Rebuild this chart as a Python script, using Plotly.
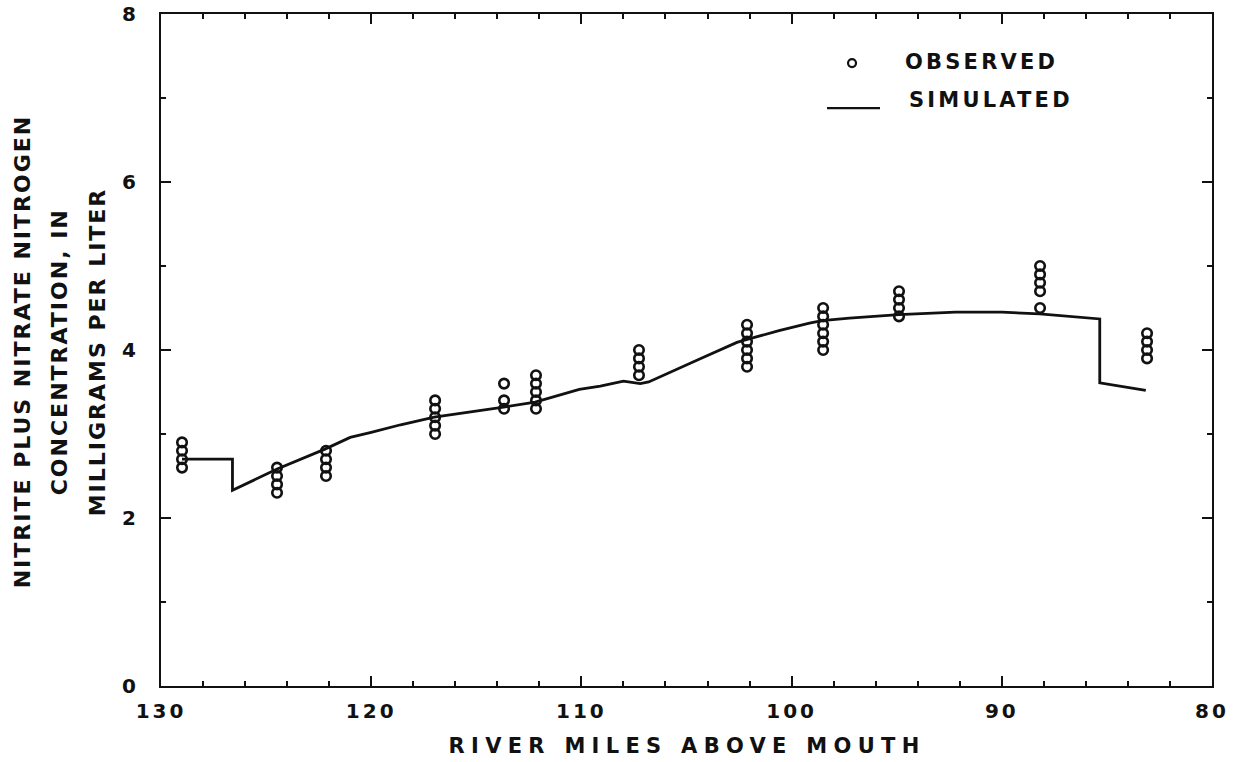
import json
import plotly.graph_objects as go

# ---------------- data ----------------
# Observed sampling stations (river miles) and the concentrations observed at each
obs_miles = [129.0, 124.48, 122.15, 116.96, 113.68, 112.16, 107.26, 102.12, 98.5, 94.89, 88.18, 83.09]
obs_values = [
    [2.6, 2.7, 2.8, 2.9],
    [2.3, 2.4, 2.5, 2.6],
    [2.5, 2.6, 2.7, 2.8],
    [3.0, 3.1, 3.2, 3.3, 3.4],
    [3.3, 3.4, 3.6],
    [3.3, 3.4, 3.5, 3.6, 3.7],
    [3.7, 3.8, 3.9, 4.0],
    [3.8, 3.9, 4.0, 4.1, 4.2, 4.3],
    [4.0, 4.1, 4.2, 4.3, 4.4, 4.5],
    [4.4, 4.5, 4.6, 4.7],
    [4.5, 4.7, 4.8, 4.9, 5.0],
    [3.9, 4.0, 4.1, 4.2],
]

# Simulated profile
sim_miles = [129.0, 126.6, 126.6, 124.5, 122.2, 121.0, 120.0, 118.6, 117.0, 115.0, 113.7,
             112.2, 110.1, 109.1, 108.0, 107.2, 106.8, 104.4, 102.6, 102.2, 100.6, 99.15,
             98.55, 97.25, 94.9, 92.2, 90.0, 88.2, 85.34, 85.34, 83.15]
sim_values = [2.70, 2.70, 2.33, 2.58, 2.82, 2.96, 3.02, 3.11, 3.20, 3.27, 3.32,
              3.38, 3.53, 3.57, 3.63, 3.60, 3.62, 3.89, 4.09, 4.12, 4.23, 4.32,
              4.35, 4.38, 4.42, 4.45, 4.45, 4.43, 4.37, 3.61, 3.52]

x_range = [130, 80]
y_range = [0, 8]
x_title = "RIVER MILES ABOVE MOUTH"
y_title_lines = ["NITRITE PLUS NITRATE NITROGEN", "CONCENTRATION, IN", "MILLIGRAMS PER LITER"]
legend_labels = ["OBSERVED", "SIMULATED"]

# ---------------- figure ----------------
FONT = "DejaVu Sans"
INK = "#111111"
ox = [m for m, vals in zip(obs_miles, obs_values) for _ in vals]
oy = [v for vals in obs_values for v in vals]

fig = go.Figure()
fig.add_trace(go.Scatter(
    x=sim_miles, y=sim_values, mode="lines",
    line=dict(color=INK, width=2.8),
    name=legend_labels[1], showlegend=False, hoverinfo="skip",
))
fig.add_trace(go.Scatter(
    x=ox, y=oy, mode="markers",
    marker=dict(symbol="circle-open", size=9.5, color=INK, line=dict(width=2.6)),
    name=legend_labels[0], showlegend=False, hoverinfo="skip",
))

axis_common = dict(
    showline=True, linecolor=INK, linewidth=2, mirror="allticks",
    ticks="inside", tickcolor=INK, tickwidth=2, ticklen=10,
    showgrid=False, zeroline=False, automargin=False, fixedrange=True,
    tickfont=dict(family=FONT, size=20, color=INK, weight="bold"),
)

fig.update_xaxes(range=x_range, dtick=10, tick0=80, ticklabelstandoff=6,
                 minor=dict(dtick=2, ticks="inside", ticklen=5, tickwidth=2, tickcolor=INK),
                 **axis_common)
fig.update_yaxes(range=y_range, dtick=2, tick0=0, ticklabelstandoff=16,
                 minor=dict(dtick=1, ticks="inside", ticklen=5, tickwidth=2, tickcolor=INK),
                 **axis_common)

annotations = [
    dict(text=x_title, xref="paper", yref="paper", x=0.5, y=-0.0894,
         xanchor="center", yanchor="middle", showarrow=False,
         font=dict(family=FONT, size=21, color=INK, weight="bold")),
]
for xp, line in zip([-0.1323, -0.0971, -0.0609], y_title_lines):
    annotations.append(dict(text=line, xref="paper", yref="paper", x=xp, y=0.498,
                            xanchor="center", yanchor="middle", textangle=-90, showarrow=False,
                            font=dict(family=FONT, size=22, color=INK, weight="bold")))
annotations.append(dict(text=legend_labels[0], xref="paper", yref="paper", x=0.706, y=0.9285,
                        xanchor="left", yanchor="middle", align="left", showarrow=False,
                        font=dict(family=FONT, size=21, color=INK, weight="bold")))
annotations.append(dict(text=legend_labels[1], xref="paper", yref="paper", x=0.7098, y=0.8718,
                        xanchor="left", yanchor="middle", align="left", showarrow=False,
                        font=dict(family=FONT, size=21, color=INK, weight="bold")))

shapes = [
    dict(type="circle", xref="paper", yref="paper", xsizemode="pixel", ysizemode="pixel",
         xanchor=0.6575, yanchor=0.927, x0=-4, x1=4, y0=-4, y1=4,
         line=dict(color=INK, width=2.2)),
    dict(type="line", xref="paper", yref="paper", x0=0.6337, x1=0.6841, y0=0.860, y1=0.860,
         line=dict(color=INK, width=2.4)),
]

fig.update_layout(
    width=1238, height=762,
    margin=dict(l=161, r=26, t=14, b=76, autoexpand=False),
    paper_bgcolor="white", plot_bgcolor="white",
    showlegend=False, hovermode=False,
    annotations=annotations,
    shapes=shapes,
    font=dict(family=FONT, color=INK),
)

css = """
html, body { margin: 0; padding: 0; overflow: hidden; }
.xtick text, .ytick text { letter-spacing: 3px; }
.annotation[data-index="0"] text { letter-spacing: 6.3px; }
.annotation[data-index="1"] text, .annotation[data-index="2"] text, .annotation[data-index="3"] text { letter-spacing: 2px; }
.annotation[data-index="4"] text, .annotation[data-index="5"] text { letter-spacing: 3.2px; }
"""
post = "var s=document.createElement('style');s.innerHTML=" + json.dumps(css) + ";document.head.appendChild(s);"

fig.write_html("out.html", post_script=post, config={"displayModeBar": False, "staticPlot": False})
